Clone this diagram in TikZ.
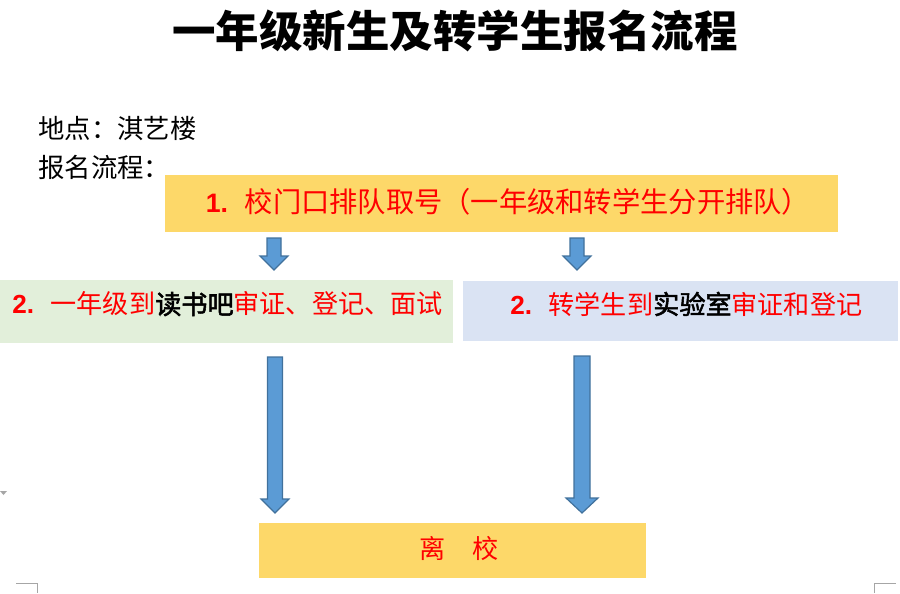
\documentclass[tikz,border=0pt]{standalone}
\usepackage{fontspec}
\setmainfont{Liberation Sans}
\newfontfamily\cjk{Noto Sans CJK SC}
\newfontfamily\cjkbf{Noto Sans CJK SC}[FakeBold=2]
\newfontfamily\arialbf{Liberation Sans Bold}
\definecolor{boxyellow}{HTML}{FDD869}
\definecolor{boxgreen}{HTML}{E2EFDA}
\definecolor{boxblue}{HTML}{DAE3F3}
\definecolor{arrowfill}{HTML}{5B9BD5}
\definecolor{arrowline}{HTML}{41719C}
\definecolor{markgray}{HTML}{A6A6A6}
\definecolor{txtred}{HTML}{FF0000}
\newcommand\blockarrowdraw[6]{% cx, top, headstart, tip, half shaft, half head
  \draw[arrowshape] (#1-#5,#2) -- (#1+#5,#2) -- (#1+#5,#3) -- (#1+#6,#3) -- (#1,#4)
    -- (#1-#6,#3) -- (#1-#5,#3) -- cycle;}
\newcommand\numgap{\hspace{12.5pt}}
\tikzset{
  stagebox/.style={draw=none, inner sep=0pt, outer sep=0pt},
  arrowshape/.style={fill=arrowfill, draw=arrowline, line width=0.9pt, line join=miter},
  boxtext/.style={inner sep=0pt, font=\cjk\fontsize{19.6pt}{22pt}\selectfont, text=txtred},
  plaintext/.style={inner sep=0pt, anchor=west, font=\cjk\fontsize{19.8pt}{22pt}\selectfont},
  cropmark/.style={draw=markgray, line width=0.6pt}
}
\begin{document}
\begin{tikzpicture}[x=0.75pt,y=-0.75pt]
\useasboundingbox (0,0) rectangle (900,593);
% title
\node[inner sep=0pt, font=\cjk\bfseries\fontsize{32.6pt}{36pt}\selectfont] (title) at (455,31) {一年级新生及转学生报名流程};
% header lines
\node[plaintext] (place) at (38,129) {地点：淇艺楼};
\node[plaintext] (proc) at (38,167) {报名流程：};
% boxes
\node[stagebox, fill=boxyellow, minimum width=673*0.75pt, minimum height=57*0.75pt] (b1) at (501.5,203.5) {};
\node[stagebox, fill=boxgreen, minimum width=453*0.75pt, minimum height=63*0.75pt] (b2l) at (226.5,311.5) {};
\node[stagebox, fill=boxblue, minimum width=435*0.75pt, minimum height=60*0.75pt] (b2r) at (680.5,311) {};
\node[stagebox, fill=boxyellow, minimum width=387*0.75pt, minimum height=55*0.75pt] (b3) at (452.5,550.5) {};
% texts in boxes
\node[boxtext, font=\cjk\fontsize{21.2pt}{24pt}\selectfont] (t1) at (508,202) {{\arialbf\fontsize{20pt}{24pt}\selectfont 1.}\numgap 校门口排队取号（一年级和转学生分开排队）};
\node[boxtext, anchor=west] (t2l) at (12,304) {{\arialbf 2.}\numgap 一年级到{\cjkbf\color{black}读书吧}审证、登记、面试};
\node[boxtext, anchor=west] (t2r) at (510,304) {{\arialbf 2.}\numgap 转学生到{\cjkbf\color{black}实验室}审证和登记};
\node[boxtext] (t3) at (459,548) {离　校};
% block arrows
\blockarrowdraw{274}{238}{256}{270}{7}{14}
\blockarrowdraw{577}{238}{256}{270}{7}{14}
\blockarrowdraw{275}{357}{499}{513}{7.5}{14}
\blockarrowdraw{582}{356}{498}{513}{8}{16}
% page marks
\fill[markgray] (0,491) -- (7,491) -- (3.5,495) -- cycle;
\draw[cropmark] (16,583) -- (37,583) -- (37,593);
\draw[cropmark] (874,593) -- (874,583) -- (896,583);
\end{tikzpicture}
\end{document}
